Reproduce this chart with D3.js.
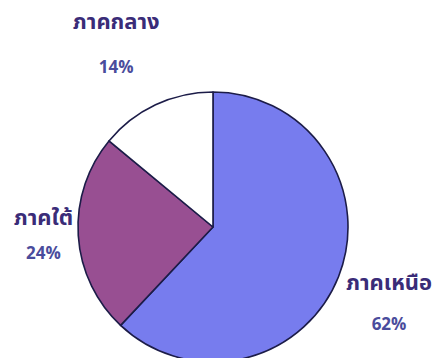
<!DOCTYPE html>
<html>
<head>
<meta charset="utf-8">
<script src="https://cdn.jsdelivr.net/npm/d3@7/dist/d3.min.js"></script>
<style>
  html, body { margin: 0; padding: 0; background: #ffffff; }
  svg { display: block; }
  text { font-family: "Noto Sans Thai", "Noto Sans", "DejaVu Sans", sans-serif; font-weight: bold; }
</style>
</head>
<body>
<svg id="chart" width="434" height="358"></svg>
<script>
// Share of respondents by region
const regions = ["ภาคเหนือ", "ภาคใต้", "ภาคกลาง"];
const shares = [62, 24, 14];
const sliceColors = ["#777cee", "#984f92", "#ffffff"];

const width = 434, height = 358;
const cx = 213, cy = 227, radius = 135;

const svg = d3.select("#chart");
const g = svg.append("g").attr("transform", `translate(${cx},${cy})`);

const data = regions.map((r, i) => ({ region: r, value: shares[i], color: sliceColors[i] }));

const pie = d3.pie().value(d => d.value).sort(null);
const arc = d3.arc().innerRadius(0).outerRadius(radius);
const arcs = pie(data);

g.selectAll("path.slice")
  .data(arcs)
  .join("path")
  .attr("class", "slice")
  .attr("d", arc)
  .attr("fill", d => d.data.color)
  .attr("stroke", "#1c1c48")
  .attr("stroke-width", 1.6)
  .attr("stroke-linejoin", "round");

// Labels sit outside the pie along each slice's mid-angle, nudged so the
// two-line block clears the rim: [dx, dy, gap between name and percent].
const labelArc = d3.arc().innerRadius(185).outerRadius(185);
const labelLayout = {
  "ภาคเหนือ": [4, -5, 40],
  "ภาคใต้": [15, -14, 34],
  "ภาคกลาง": [-18, -31, 44]
};

const labels = g.selectAll("g.label")
  .data(arcs)
  .join("g")
  .attr("class", "label")
  .attr("transform", d => {
    const [x, y] = labelArc.centroid(d);
    const [dx, dy] = labelLayout[d.data.region];
    return `translate(${x + dx},${y + dy})`;
  });

labels.append("text")
  .attr("text-anchor", "middle")
  .attr("font-size", 22)
  .attr("fill", "#3a2c78")
  .text(d => d.data.region);

labels.append("text")
  .attr("text-anchor", "middle")
  .attr("y", d => labelLayout[d.data.region][2])
  .attr("font-size", 17)
  .attr("fill", "#4a4c9c")
  .text(d => `${d.data.value}%`);
</script>
</body>
</html>
